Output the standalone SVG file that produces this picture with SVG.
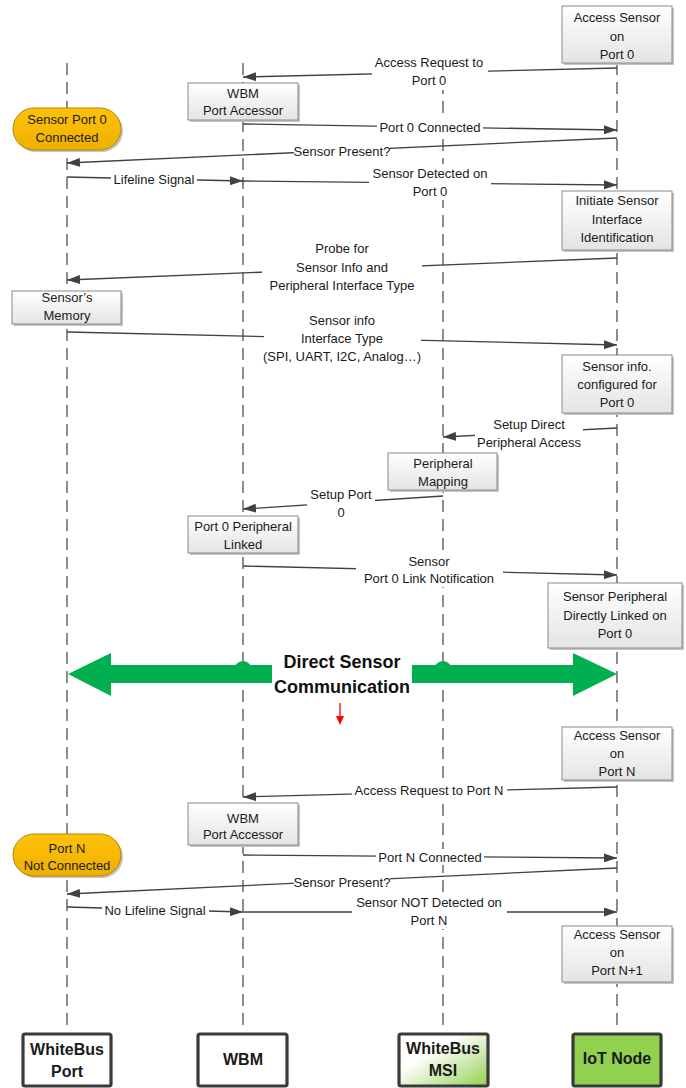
<svg xmlns="http://www.w3.org/2000/svg" width="686" height="1088" viewBox="0 0 686 1088">
<style>
.life{stroke:#505050;stroke-width:1.3;stroke-dasharray:12 7;fill:none}
.msg{stroke:#404040;stroke-width:1.3;fill:none}
.lbg{fill:#ffffff}
.t{font-family:"Liberation Sans",Arial,sans-serif;font-size:13px;fill:#1a1a1a;text-anchor:middle}
.tb{font-family:"Liberation Sans",Arial,sans-serif;font-size:16px;font-weight:bold;fill:#1a1a1a;text-anchor:middle}
.tg{font-family:"Liberation Sans",Arial,sans-serif;font-size:18px;font-weight:bold;fill:#111;text-anchor:middle}
.box{fill:url(#gbox);stroke:#8a8a8a;stroke-width:1}
.shd{fill:#c4c4c4}
.oval{fill:url(#gold);stroke:#b38700;stroke-width:1}
.actor{stroke:#3a3a3a;stroke-width:3.2}
</style>
<defs>
<linearGradient id="gbox" x1="0" y1="0" x2="0" y2="1">
<stop offset="0" stop-color="#ffffff"/><stop offset="1" stop-color="#e4e4e4"/>
</linearGradient>
<linearGradient id="gold" x1="0" y1="0" x2="0" y2="1">
<stop offset="0" stop-color="#ffc20a"/><stop offset="1" stop-color="#eeb000"/>
</linearGradient>
<linearGradient id="gmsi" x1="0.35" y1="0.35" x2="1" y2="1">
<stop offset="0" stop-color="#ffffff"/><stop offset="1" stop-color="#92d050"/>
</linearGradient>
<marker id="ah" markerUnits="userSpaceOnUse" markerWidth="13" markerHeight="9" refX="13" refY="4.5" orient="auto">
<path d="M0,0 L13,4.5 L0,9 z" fill="#404040"/>
</marker>
</defs>
<rect width="686" height="1088" fill="#ffffff"/>

<g id="lifelines">
<line class="life" x1="67" y1="63" x2="67" y2="1030"/>
<line class="life" x1="243" y1="63" x2="243" y2="1030"/>
<line class="life" x1="443" y1="63" x2="443" y2="1030"/>
<line class="life" x1="617" y1="63" x2="617" y2="1030"/>
</g>

<g id="connectors">
<line class="msg" x1="617" y1="68" x2="243" y2="77" marker-end="url(#ah)"/>
<line class="msg" x1="243" y1="124" x2="617" y2="130" marker-end="url(#ah)"/>
<line class="msg" x1="617" y1="138" x2="67" y2="163" marker-end="url(#ah)"/>
<line class="msg" x1="67" y1="177" x2="243" y2="181" marker-end="url(#ah)"/>
<line class="msg" x1="243" y1="181" x2="617" y2="185" marker-end="url(#ah)"/>
<line class="msg" x1="617" y1="258" x2="67" y2="280" marker-end="url(#ah)"/>
<line class="msg" x1="67" y1="332" x2="617" y2="345" marker-end="url(#ah)"/>
<line class="msg" x1="617" y1="428" x2="443" y2="437" marker-end="url(#ah)"/>
<line class="msg" x1="443" y1="496" x2="243" y2="509" marker-end="url(#ah)"/>
<line class="msg" x1="243" y1="566" x2="617" y2="575" marker-end="url(#ah)"/>
<line class="msg" x1="617" y1="787" x2="243" y2="797" marker-end="url(#ah)"/>
<line class="msg" x1="243" y1="855" x2="617" y2="858" marker-end="url(#ah)"/>
<line class="msg" x1="617" y1="868" x2="67" y2="894" marker-end="url(#ah)"/>
<line class="msg" x1="67" y1="907" x2="243" y2="912" marker-end="url(#ah)"/>
<line class="msg" x1="243" y1="912" x2="617" y2="912" marker-end="url(#ah)"/>
</g>

<g id="labels">
<rect class="lbg" x="372" y="54" width="116" height="36"/>
<text class="t" x="429" y="67">Access Request to</text>
<text class="t" x="429" y="85">Port 0</text>
<rect class="lbg" x="377" y="119" width="106" height="16"/>
<text class="t" x="430" y="132">Port 0 Connected</text>
<rect class="lbg" x="294" y="143" width="96" height="16"/>
<text class="t" x="342" y="156">Sensor Present?</text>
<rect class="lbg" x="111" y="171" width="86" height="16"/>
<text class="t" x="154" y="184">Lifeline Signal</text>
<rect class="lbg" x="369" y="164" width="122" height="36"/>
<text class="t" x="430" y="178">Sensor Detected on</text>
<text class="t" x="430" y="196">Port 0</text>
<rect class="lbg" x="262" y="239" width="160" height="55"/>
<text class="t" x="342" y="253">Probe for</text>
<text class="t" x="342" y="272">Sensor Info and</text>
<text class="t" x="342" y="290">Peripheral Interface Type</text>
<rect class="lbg" x="264" y="311" width="157" height="55"/>
<text class="t" x="342" y="325">Sensor info</text>
<text class="t" x="342" y="343">Interface Type</text>
<text class="t" x="342" y="361">(SPI, UART, I2C, Analog…)</text>
<rect class="lbg" x="475" y="415" width="108" height="36"/>
<text class="t" x="529" y="429">Setup Direct</text>
<text class="t" x="529" y="447">Peripheral Access</text>
<rect class="lbg" x="307" y="485" width="68" height="36"/>
<text class="t" x="341" y="499">Setup Port</text>
<text class="t" x="341" y="517">0</text>
<rect class="lbg" x="356" y="552" width="147" height="35"/>
<text class="t" x="429" y="566">Sensor</text>
<text class="t" x="429" y="583">Port 0 Link Notification</text>
<rect class="lbg" x="352" y="782" width="155" height="16"/>
<text class="t" x="429" y="795">Access Request to Port N</text>
<rect class="lbg" x="376" y="849" width="108" height="16"/>
<text class="t" x="430" y="862">Port N Connected</text>
<rect class="lbg" x="294" y="874" width="96" height="16"/>
<text class="t" x="342" y="887">Sensor Present?</text>
<rect class="lbg" x="102" y="902" width="107" height="16"/>
<text class="t" x="155" y="915">No Lifeline Signal</text>
<rect class="lbg" x="352" y="893" width="155" height="36"/>
<text class="t" x="429" y="907">Sensor NOT Detected on</text>
<text class="t" x="429" y="925">Port N</text>
</g>

<g id="n-access0">
<rect class="shd" x="564" y="8" width="110" height="57"/>
<rect class="box" x="562" y="6" width="110" height="57"/>
<text class="t" x="617" y="22">Access Sensor</text>
<text class="t" x="617" y="41">on</text>
<text class="t" x="617" y="59">Port 0</text>
</g>
<g id="n-wbmpa0">
<rect class="shd" x="190" y="85" width="110" height="37"/>
<rect class="box" x="188" y="83" width="110" height="37"/>
<text class="t" x="243" y="98">WBM</text>
<text class="t" x="243" y="115">Port Accessor</text>
</g>
<g id="n-port0conn">
<rect class="shd" x="15" y="110" width="108" height="42" rx="21"/>
<rect class="oval" x="13" y="108" width="108" height="42" rx="21"/>
<text class="t" x="67" y="124">Sensor Port 0</text>
<text class="t" x="67" y="142">Connected</text>
</g>
<g id="n-initiate">
<rect class="shd" x="564" y="193" width="110" height="59"/>
<rect class="box" x="562" y="191" width="110" height="59"/>
<text class="t" x="617" y="205">Initiate Sensor</text>
<text class="t" x="617" y="224">Interface</text>
<text class="t" x="617" y="242">Identification</text>
</g>
<g id="n-memory">
<rect class="shd" x="14" y="293" width="109" height="33"/>
<rect class="box" x="12" y="291" width="109" height="33"/>
<text class="t" x="67" y="302">Sensor’s</text>
<text class="t" x="67" y="320">Memory</text>
</g>
<g id="n-configured">
<rect class="shd" x="564" y="357" width="110" height="58"/>
<rect class="box" x="562" y="355" width="110" height="58"/>
<text class="t" x="617" y="371">Sensor info.</text>
<text class="t" x="617" y="389">configured for</text>
<text class="t" x="617" y="407">Port 0</text>
</g>
<g id="n-mapping">
<rect class="shd" x="390" y="455" width="109" height="37"/>
<rect class="box" x="388" y="453" width="109" height="37"/>
<text class="t" x="443" y="468">Peripheral</text>
<text class="t" x="443" y="486">Mapping</text>
</g>
<g id="n-linked">
<rect class="shd" x="190" y="518" width="110" height="37"/>
<rect class="box" x="188" y="516" width="110" height="37"/>
<text class="t" x="243" y="531">Port 0 Peripheral</text>
<text class="t" x="243" y="549">Linked</text>
</g>
<g id="n-directlinked">
<rect class="shd" x="550" y="585" width="134" height="65"/>
<rect class="box" x="548" y="583" width="134" height="65"/>
<text class="t" x="615" y="601">Sensor Peripheral</text>
<text class="t" x="615" y="620">Directly Linked on</text>
<text class="t" x="615" y="638">Port 0</text>
</g>

<g id="n-directcomm">
<path d="M68,674 L111,653 L111,665 L272,665 L272,683 L111,683 L111,696 Z" fill="#00b050"/>
<path d="M617,674 L573,653 L573,665 L412,665 L412,683 L573,683 L573,696 Z" fill="#00b050"/>
<circle cx="243" cy="670" r="9" fill="#00b050"/>
<circle cx="443" cy="670" r="9" fill="#00b050"/>
<text class="tg" x="342" y="668">Direct Sensor</text>
<text class="tg" x="342" y="693">Communication</text>
</g>
<g id="red-arrow">
<line x1="340" y1="703" x2="340" y2="717" stroke="#ff0000" stroke-width="1.3"/>
<path d="M336,716 L344,716 L340,725 Z" fill="#ff0000"/>
</g>

<g id="n-accessN">
<rect class="shd" x="564" y="729" width="110" height="53"/>
<rect class="box" x="562" y="727" width="110" height="53"/>
<text class="t" x="617" y="740">Access Sensor</text>
<text class="t" x="617" y="758">on</text>
<text class="t" x="617" y="776">Port N</text>
</g>
<g id="n-wbmpaN">
<rect class="shd" x="190" y="805" width="110" height="42"/>
<rect class="box" x="188" y="803" width="110" height="42"/>
<text class="t" x="243" y="823">WBM</text>
<text class="t" x="243" y="839">Port Accessor</text>
</g>
<g id="n-portNnot">
<rect class="shd" x="15" y="836" width="108" height="42" rx="21"/>
<rect class="oval" x="13" y="834" width="108" height="42" rx="21"/>
<text class="t" x="67" y="853">Port N</text>
<text class="t" x="67" y="870">Not Connected</text>
</g>
<g id="n-accessN1">
<rect class="shd" x="564" y="928" width="110" height="56"/>
<rect class="box" x="562" y="926" width="110" height="56"/>
<text class="t" x="617" y="939">Access Sensor</text>
<text class="t" x="617" y="957">on</text>
<text class="t" x="617" y="975">Port N+1</text>
</g>

<g id="a-wbport">
<rect class="actor" x="23" y="1034" width="88" height="52" rx="2" fill="#ffffff"/>
<text class="tb" x="67" y="1055">WhiteBus</text>
<text class="tb" x="67" y="1077">Port</text>
</g>
<g id="a-wbm">
<rect class="actor" x="198" y="1034" width="89" height="52" rx="2" fill="#ffffff"/>
<text class="tb" x="243" y="1065">WBM</text>
</g>
<g id="a-msi">
<rect class="actor" x="399" y="1034" width="89" height="52" rx="2" fill="url(#gmsi)"/>
<text class="tb" x="443" y="1054">WhiteBus</text>
<text class="tb" x="443" y="1076">MSI</text>
</g>
<g id="a-iot">
<rect class="actor" x="573" y="1034" width="88" height="52" rx="2" fill="#92d050"/>
<text class="tb" x="617" y="1064">IoT Node</text>
</g>
</svg>
